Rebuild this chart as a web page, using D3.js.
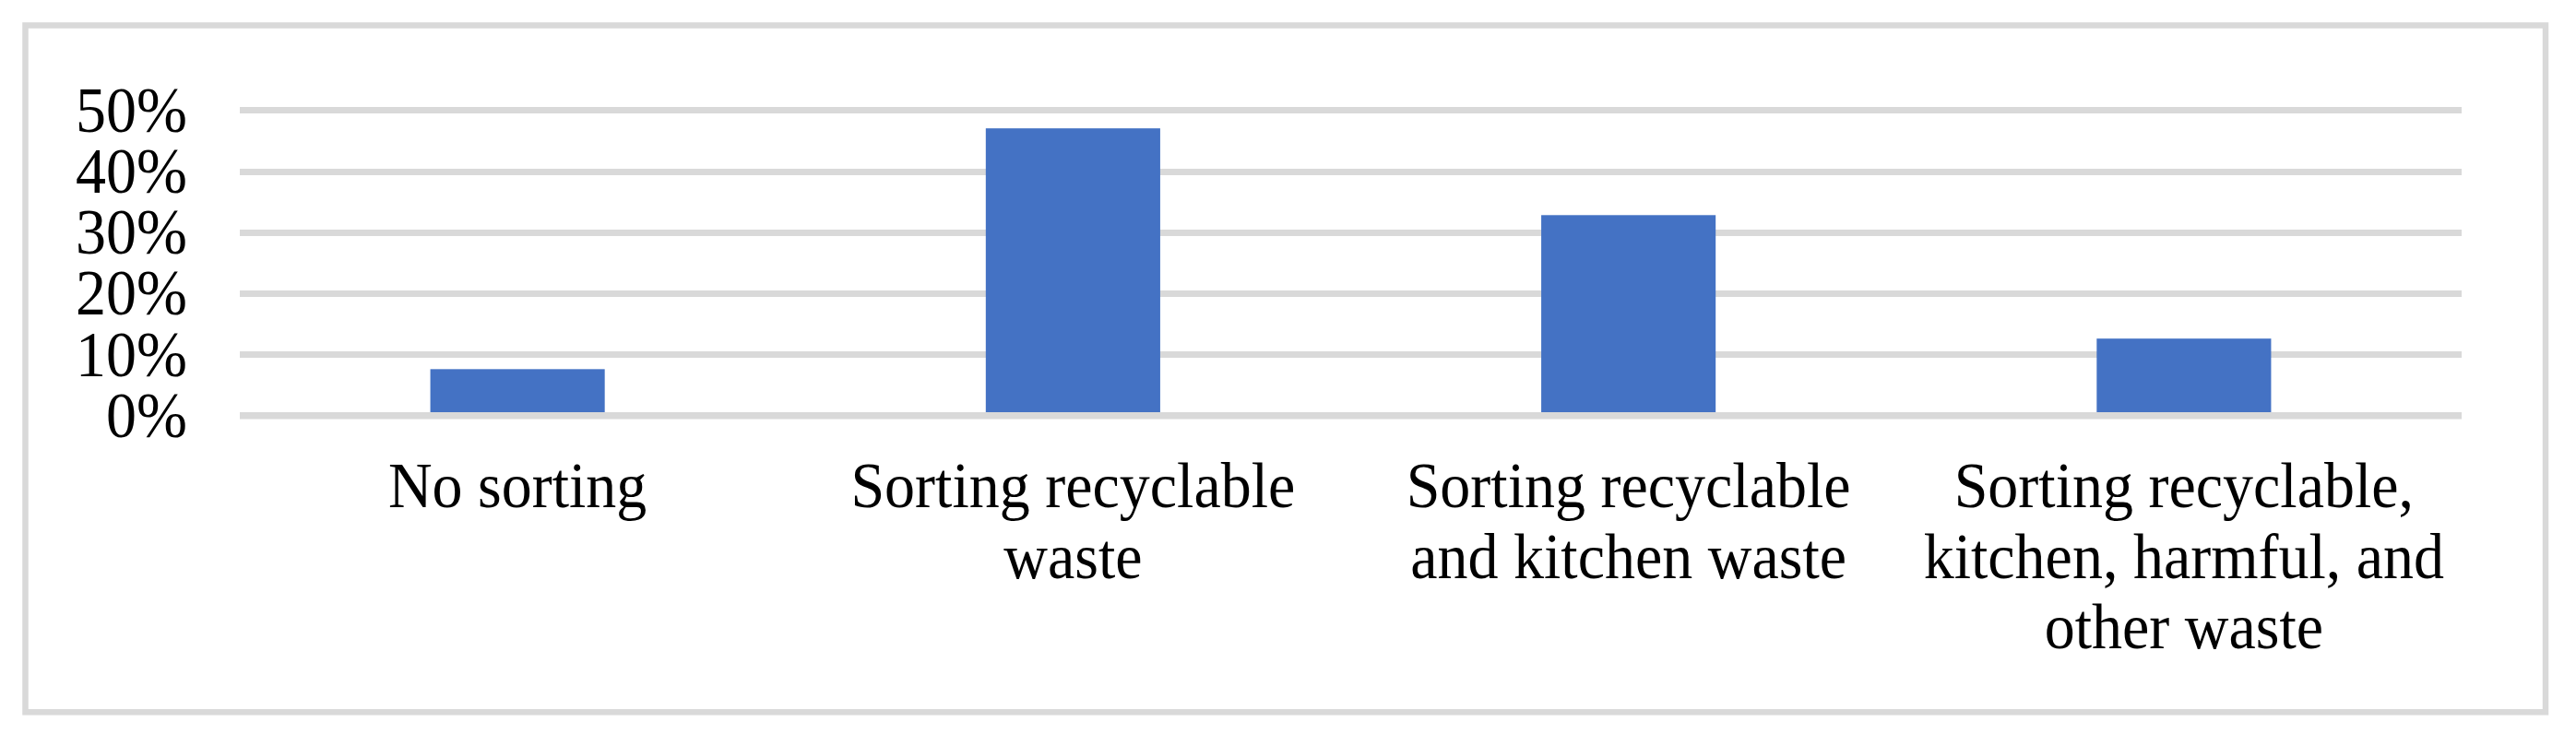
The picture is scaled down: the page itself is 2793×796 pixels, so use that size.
<!DOCTYPE html>
<html>
<head>
<meta charset="utf-8">
<script src="https://cdn.jsdelivr.net/npm/d3@7"></script>
<style>
  html, body { margin: 0; padding: 0; background: #ffffff; }
  svg { display: block; }
</style>
</head>
<body>
<svg id="chart" width="2793" height="796"></svg>
<script>
// ---- data ----
const categories = [
  "No sorting",
  "Sorting recyclable waste",
  "Sorting recyclable and kitchen waste",
  "Sorting recyclable, kitchen, harmful, and other waste"
];
const categoryLines = [
  ["No sorting"],
  ["Sorting recyclable", "waste"],
  ["Sorting recyclable", "and kitchen waste"],
  ["Sorting recyclable,", "kitchen, harmful, and", "other waste"]
];
const values = [0.076, 0.470, 0.328, 0.126];
const yTicks = [0, 0.1, 0.2, 0.3, 0.4, 0.5];
const yTickLabels = ["0%", "10%", "20%", "30%", "40%", "50%"];

// ---- layout ----
const W = 2793, H = 796;
const plot = { left: 260, right: 2669, top: 119.3, bottom: 450.7 };
const fontFamily = "'Liberation Serif', 'Times New Roman', serif";
const gridColor = "#d9d9d9";
const barColor = "#4472c4";
const stretchY = 1.045;

const svg = d3.select("#chart");

svg.append("rect")
  .attr("x", 0).attr("y", 0).attr("width", W).attr("height", H)
  .attr("fill", "#ffffff");

// outer chart border
svg.append("rect")
  .attr("x", 27.5).attr("y", 27.5)
  .attr("width", 2760 - 27.5).attr("height", 772.3 - 27.5)
  .attr("fill", "none")
  .attr("stroke", gridColor)
  .attr("stroke-width", 6.5);

const x = d3.scaleBand()
  .domain(categories)
  .range([plot.left, plot.right])
  .paddingInner(0.686)
  .paddingOuter(0.343);

const y = d3.scaleLinear()
  .domain([0, 0.5])
  .range([plot.bottom, plot.top]);

// gridlines (except zero, drawn after bars)
const yAxis = d3.axisLeft(y)
  .tickValues(yTicks)
  .tickSize(-(plot.right - plot.left))
  .tickFormat((d, i) => yTickLabels[i]);

const gAxis = svg.append("g")
  .attr("transform", `translate(${plot.left},0)`)
  .call(yAxis);
gAxis.select(".domain").remove();
gAxis.selectAll(".tick line")
  .attr("stroke", gridColor)
  .attr("stroke-width", 7)
  .attr("shape-rendering", "crispEdges")
  .filter(d => d === 0).remove();
gAxis.selectAll(".tick text")
  .attr("x", -57)
  .attr("dy", "0.33em")
  .attr("transform", `scale(1,${stretchY})`)
  .attr("fill", "#000")
  .attr("text-anchor", "end")
  .style("font-family", fontFamily)
  .style("font-size", "66px");

// bars
svg.append("g")
  .selectAll("rect")
  .data(values)
  .join("rect")
  .attr("x", (d, i) => x(categories[i]))
  .attr("width", x.bandwidth())
  .attr("y", d => y(d))
  .attr("height", d => y(0) - y(d))
  .attr("fill", barColor);

// zero axis line on top
svg.append("line")
  .attr("x1", plot.left).attr("x2", plot.right)
  .attr("y1", y(0)).attr("y2", y(0))
  .attr("stroke", gridColor)
  .attr("stroke-width", 7.5);

// category labels
const firstBaseline = 550;
const lineH = 76.7;
const gLabels = svg.append("g");
categories.forEach((c, i) => {
  const cx = x(c) + x.bandwidth() / 2;
  const t = gLabels.append("text")
    .attr("transform", `translate(${cx},${firstBaseline}) scale(1,${stretchY})`)
    .attr("text-anchor", "middle")
    .attr("fill", "#000")
    .style("font-family", fontFamily)
    .style("font-size", "66px");
  categoryLines[i].forEach((line, j) => {
    t.append("tspan")
      .attr("x", 0)
      .attr("y", (j * lineH) / stretchY)
      .text(line);
  });
});
</script>
</body>
</html>
